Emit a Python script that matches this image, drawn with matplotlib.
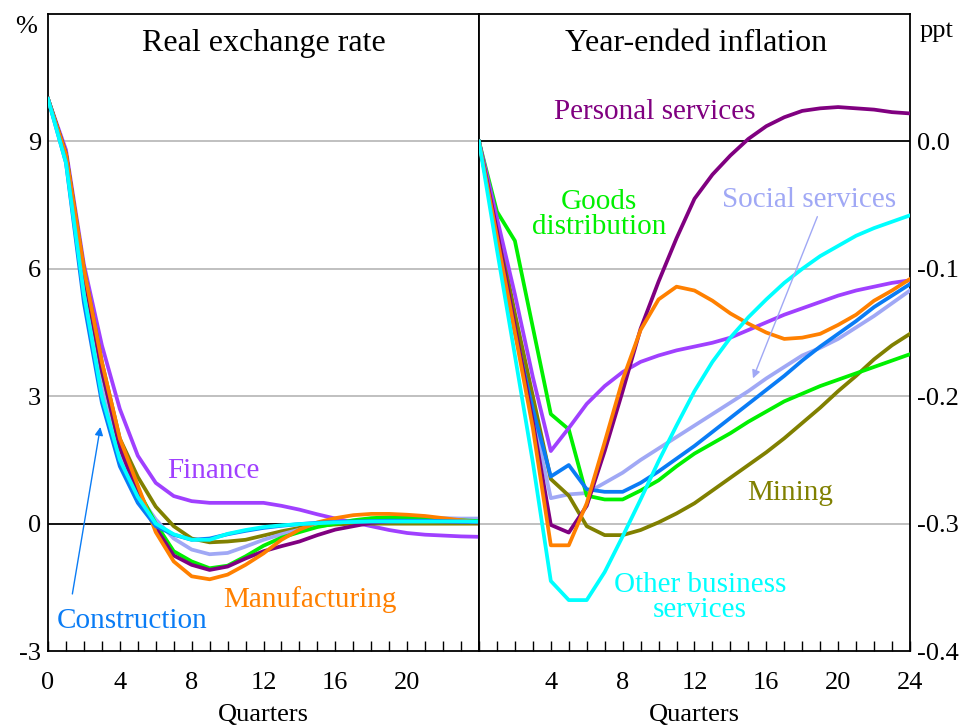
import numpy as np
import matplotlib
matplotlib.use('Agg')
import matplotlib.pyplot as plt

plt.rcParams['font.family'] = ['Liberation Serif', 'DejaVu Serif']
plt.rcParams['axes.unicode_minus'] = False

quarters = np.arange(25)

# Real exchange rate (%), by industry
rer_finance = [10, 8.8, 6.1, 4.2, 2.7, 1.6, 0.96, 0.65, 0.53, 0.49, 0.49, 0.49, 0.49,
               0.42, 0.33, 0.22, 0.12, 0.03, -0.06, -0.15, -0.22, -0.26, -0.28, -0.30, -0.31]
rer_construction = [10, 8.5, 5.2, 2.85, 1.35, 0.49, -0.06, -0.26, -0.38, -0.35, -0.25, -0.17, -0.1,
                    -0.05, -0.01, 0.02, 0.04, 0.05, 0.06, 0.07, 0.07, 0.07, 0.06, 0.05, 0.04]
rer_other_business = [10, 8.5, 5.4, 3.0, 1.5, 0.63, 0.0, -0.25, -0.38, -0.38, -0.24, -0.15, -0.08,
                      -0.04, -0.01, 0.01, 0.03, 0.04, 0.05, 0.05, 0.05, 0.05, 0.05, 0.05, 0.05]
rer_social = [10, 8.6, 5.6, 3.3, 1.6, 0.7, 0.1, -0.35, -0.61, -0.72, -0.69, -0.54, -0.38,
              -0.25, -0.14, -0.05, 0.02, 0.06, 0.1, 0.12, 0.13, 0.13, 0.13, 0.12, 0.12]
rer_mining = [10, 8.7, 6.0, 3.8, 2.0, 1.1, 0.4, -0.06, -0.35, -0.44, -0.42, -0.38, -0.28,
              -0.18, -0.1, -0.05, -0.02, 0.0, 0.0, 0.0, 0.0, 0.0, 0.0, 0.0, 0.0]
rer_goods = [10, 8.7, 5.9, 3.6, 1.8, 0.8, 0.0, -0.65, -0.89, -1.05, -0.99, -0.77, -0.52,
             -0.33, -0.2, -0.08, 0.0, 0.08, 0.13, 0.15, 0.14, 0.12, 0.1, 0.08, 0.06]
rer_personal = [10, 8.7, 5.9, 3.6, 1.8, 0.7, -0.1, -0.75, -0.97, -1.09, -1.01, -0.82, -0.65,
                -0.53, -0.42, -0.27, -0.14, -0.06, 0.02, 0.05, 0.06, 0.06, 0.05, 0.04, 0.03]
rer_manufacturing = [10, 8.7, 6.0, 3.8, 2.0, 0.9, -0.2, -0.89, -1.24, -1.31, -1.2, -0.97, -0.7,
                     -0.38, -0.14, 0.03, 0.13, 0.2, 0.23, 0.23, 0.21, 0.18, 0.13, 0.08, 0.03]

# Year-ended inflation (ppt), by industry
inf_finance = [0, -0.06, -0.12, -0.185, -0.243, -0.225, -0.206, -0.192, -0.181, -0.173, -0.168, -0.164, -0.161,
               -0.158, -0.154, -0.148, -0.142, -0.136, -0.131, -0.126, -0.121, -0.117, -0.114, -0.111, -0.109]
inf_construction = [0, -0.075, -0.15, -0.21, -0.263, -0.254, -0.273, -0.275, -0.275, -0.268, -0.259, -0.249, -0.239,
                    -0.228, -0.217, -0.206, -0.195, -0.184, -0.172, -0.161, -0.151, -0.141, -0.130, -0.121, -0.112]
inf_other_business = [0, -0.085, -0.168, -0.252, -0.345, -0.360, -0.360, -0.338, -0.310, -0.281, -0.251, -0.223, -0.196,
                      -0.173, -0.154, -0.138, -0.124, -0.111, -0.100, -0.090, -0.082, -0.074, -0.068, -0.063, -0.058]
inf_social = [0, -0.072, -0.145, -0.215, -0.280, -0.277, -0.276, -0.268, -0.260, -0.250, -0.241, -0.232, -0.223,
              -0.214, -0.205, -0.196, -0.186, -0.177, -0.168, -0.162, -0.155, -0.146, -0.137, -0.127, -0.117]
inf_mining = [0, -0.065, -0.135, -0.2, -0.265, -0.278, -0.302, -0.309, -0.309, -0.305, -0.299, -0.292, -0.284,
              -0.274, -0.264, -0.254, -0.244, -0.233, -0.221, -0.209, -0.196, -0.184, -0.171, -0.160, -0.151]
inf_goods = [0, -0.055, -0.078, -0.146, -0.214, -0.226, -0.278, -0.281, -0.281, -0.274, -0.266, -0.255, -0.245,
             -0.237, -0.229, -0.220, -0.212, -0.204, -0.198, -0.192, -0.187, -0.182, -0.177, -0.172, -0.167]
inf_personal = [0, -0.07, -0.145, -0.22, -0.301, -0.307, -0.286, -0.243, -0.196, -0.147, -0.110, -0.076, -0.045,
                -0.026, -0.011, 0.002, 0.012, 0.019, 0.024, 0.026, 0.027, 0.026, 0.025, 0.023, 0.022]
inf_manufacturing = [0, -0.075, -0.15, -0.225, -0.317, -0.317, -0.284, -0.236, -0.187, -0.148, -0.124, -0.114, -0.117,
                     -0.125, -0.135, -0.143, -0.150, -0.155, -0.154, -0.151, -0.144, -0.136, -0.125, -0.117, -0.108]

c_finance = '#A040FF'
c_construction = '#0A7CF5'
c_other = '#00FFFF'
c_social = '#A0A8F5'
c_mining = '#808000'
c_goods = '#00F000'
c_personal = '#800080'
c_manuf = '#FF8000'

fig = plt.figure(figsize=(9.7, 7.25), dpi=100)
ax1 = fig.add_axes([0.0495, 0.102, 0.4443, 0.8786])
ax2 = fig.add_axes([0.4938, 0.102, 0.4443, 0.8786])

lw = 2.7
left_series = [(rer_finance, c_finance), (rer_mining, c_mining), (rer_social, c_social),
               (rer_goods, c_goods), (rer_personal, c_personal), (rer_manufacturing, c_manuf),
               (rer_construction, c_construction), (rer_other_business, c_other)]
right_series = [(inf_social, c_social), (inf_mining, c_mining), (inf_goods, c_goods),
                (inf_construction, c_construction), (inf_finance, c_finance),
                (inf_personal, c_personal), (inf_manufacturing, c_manuf), (inf_other_business, c_other)]

lab_fs = 21
for ax in (ax1, ax2):
    ax.set_xlim(0, 24)
    ax.set_xticks(range(0, 25, 4))
    ax.set_xticks(range(25), minor=True)
    ax.tick_params(axis='x', which='both', direction='in', length=7, width=1, labelsize=19, pad=15)
    ax.tick_params(axis='y', which='both', length=0, labelsize=19, pad=5)
    for s in ax.spines.values():
        s.set_linewidth(1.3)
    ax.set_xlabel('Quarters', fontsize=19, labelpad=7)

# left panel
ax1.set_ylim(-3, 12)
ax1.set_yticks([-3, 0, 3, 6, 9])
ax1.set_xticklabels(['0', '4', '8', '12', '16', '20', ''])
for v in [3, 6, 9]:
    ax1.axhline(v, color='#BBBBBB', lw=1.3, zorder=1)
ax1.axhline(0, color='black', lw=1.3, zorder=1)
for ys, c in left_series:
    ax1.plot(quarters, ys, color=c, lw=lw, zorder=3)
ax1.text(12, 11.3, 'Real exchange rate', ha='center', va='center', fontsize=23)
ax1.text(-0.6, 11.7, '%', ha='right', va='center', fontsize=19)
ax1.text(9.2, 1.25, 'Finance', color=c_finance, ha='center', va='center', fontsize=lab_fs)
ax1.text(14.6, -1.78, 'Manufacturing', color=c_manuf, ha='center', va='center', fontsize=lab_fs)
ax1.text(4.7, -2.3, 'Construction', color=c_construction, ha='center', va='center', fontsize=lab_fs)
ax1.annotate('', xy=(2.94, 2.34), xytext=(1.33, -1.72),
             arrowprops=dict(arrowstyle='-|>', color=c_construction, lw=1.0, mutation_scale=12))

# right panel
ax2.set_ylim(-0.4, 0.1)
ax2.set_yticks([-0.4, -0.3, -0.2, -0.1, 0.0])
ax2.set_yticklabels(['-0.4', '-0.3', '-0.2', '-0.1', '0.0'])
ax2.yaxis.tick_right()
ax2.set_xticklabels(['', '4', '8', '12', '16', '20', '24'])
for v in [-0.1, -0.2, -0.3]:
    ax2.axhline(v, color='#BBBBBB', lw=1.3, zorder=1)
ax2.axhline(0, color='black', lw=1.3, zorder=1)
for ys, c in right_series:
    ax2.plot(quarters, ys, color=c, lw=lw, zorder=3)
ax2.text(12.1, 0.077, 'Year-ended inflation', ha='center', va='center', fontsize=23)
ax2.text(24.55, 0.087, 'ppt', ha='left', va='center', fontsize=19)
ax2.text(9.8, 0.023, 'Personal services', color=c_personal, ha='center', va='center', fontsize=lab_fs)
ax2.text(6.7, -0.057, 'Goods\ndistribution', color=c_goods, ha='center', va='center',
         fontsize=lab_fs, linespacing=0.95)
ax2.text(18.4, -0.046, 'Social services', color=c_social, ha='center', va='center', fontsize=lab_fs)
ax2.annotate('', xy=(15.2, -0.188), xytext=(18.9, -0.057),
             arrowprops=dict(arrowstyle='-|>', color=c_social, lw=1.0, mutation_scale=12))
ax2.text(17.3, -0.276, 'Mining', color=c_mining, ha='center', va='center', fontsize=lab_fs)
ax2.text(12.3, -0.358, 'Other business\nservices', color=c_other, ha='center', va='center',
         fontsize=lab_fs, linespacing=0.95)

fig.savefig('out.png', dpi=100)
